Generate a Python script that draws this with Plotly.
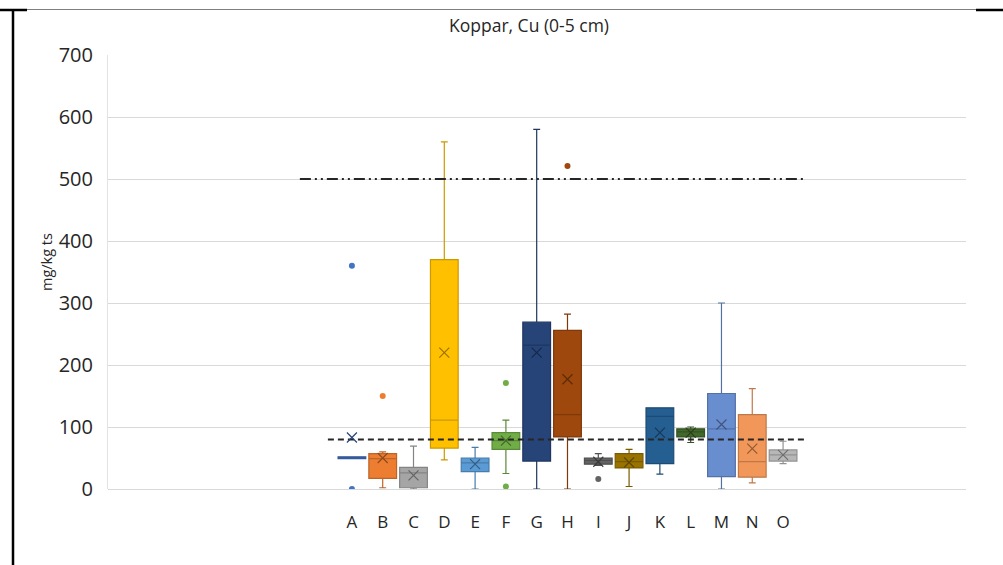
import plotly.graph_objects as go

# Sample groups and their box statistics (mg/kg ts)
groups = ["A", "B", "C", "D", "E", "F", "G", "H", "I", "J", "K", "L", "M", "N", "O"]
q1 = [49, 17, 2, 66, 28, 64, 45, 84, 40, 34, 41, 84, 20, 19, 45]
median = [50, 49, 26, 111, 42, 78, 232, 120, 46, 44, 117, 92, 97, 44, 55]
q3 = [52, 57, 35, 370, 50, 91, 269, 256, 50, 57, 131, 97, 154, 120, 63]
lower_whisker = [49, 2, 0, 47, 0, 25, 0, 0, 38, 4, 24, 75, 0, 10, 41]
upper_whisker = [52, 60, 69, 560, 67, 111, 580, 282, 57, 64, 131, 100, 300, 162, 77]
means = [83, 50, 22, 220, 40, 78, 220, 177, 44, 43, 91, 91, 104, 65, 55]
outliers = {
    "A": [360, 0],
    "B": [150],
    "F": [171, 4],
    "H": [521],
    "I": [16],
}

# Guideline values
lower_limit = 80
upper_limit = 500

colors = ["#4472C4", "#ED7D31", "#A5A5A5", "#FFC000", "#5B9BD5", "#70AD47",
          "#264478", "#9E480E", "#636363", "#997300", "#255E91", "#43682B",
          "#698ED0", "#F1975A", "#B7B7B7"]


def darker(hex_color, f=0.8):
    r, g, b = (int(hex_color[i:i + 2], 16) for i in (1, 3, 5))
    return "#%02X%02X%02X" % (int(r * f), int(g * f), int(b * f))


W, H = 1003, 565
L, R, T, B = 108, 966, 55, 489


def px_x(p):
    return (p - L) / (R - L)


def px_y(p):
    return (B - p) / (B - T)


fig = go.Figure()

positions = list(range(len(groups)))

# Guideline traces
fig.add_trace(go.Scatter(
    x=[-1.69, 14.71], y=[upper_limit, upper_limit], mode="lines",
    line=dict(color="#262626", width=2, dash="11px,4px,2px,4px,2px,4px"),
    hoverinfo="skip", showlegend=False))
fig.add_trace(go.Scatter(
    x=[-0.78, 14.71], y=[lower_limit, lower_limit], mode="lines",
    line=dict(color="#262626", width=2, dash="6px,4px"),
    hoverinfo="skip", showlegend=False))

for i, g in enumerate(groups):
    c = colors[i]
    fig.add_trace(go.Box(
        x=[positions[i]], q1=[q1[i]], median=[median[i]], q3=[q3[i]],
        lowerfence=[lower_whisker[i]], upperfence=[upper_whisker[i]],
        name=g, width=0.9, whiskerwidth=0.25, boxpoints=False,
        fillcolor=c, line=dict(color=darker(c, 0.8), width=1.2),
        showlegend=False))
    fig.add_trace(go.Scatter(
        x=[positions[i]], y=[means[i]], mode="markers",
        marker=dict(symbol="x-thin", size=10,
                    line=dict(color=darker(c, 0.6), width=1.2)),
        showlegend=False, hoverinfo="y"))
    if g in outliers:
        vals = outliers[g]
        fig.add_trace(go.Scatter(
            x=[positions[i]] * len(vals), y=vals, mode="markers",
            marker=dict(symbol="circle", size=6, color=c),
            showlegend=False, hoverinfo="y"))

fig.update_layout(
    width=W, height=H,
    margin=dict(l=L, r=W - R, t=T, b=H - B),
    paper_bgcolor="white", plot_bgcolor="white",
    font=dict(family="Open Sans", color="#262626"),
    boxmode="overlay",
    xaxis=dict(
        range=[-7.92, 19.94], tickmode="array", tickvals=positions, ticktext=groups,
        showgrid=False, zeroline=False, showline=False, ticks="",
        tickfont=dict(size=17, color="#262626"), ticklabelstandoff=21),
    yaxis=dict(
        range=[0, 700], dtick=100, showgrid=True, gridcolor="#D9D9D9", gridwidth=1.3,
        zeroline=True, zerolinecolor="#D9D9D9", zerolinewidth=1.3,
        showline=True, linecolor="#E3E3E3", linewidth=1, ticks="",
        tickfont=dict(size=20, color="#262626"), ticklabelstandoff=10),
    annotations=[
        dict(text="Koppar, Cu (0-5 cm)", xref="paper", yref="paper",
             x=px_x(528.5), y=px_y(25), xanchor="center", yanchor="middle",
             showarrow=False, font=dict(size=17.5, color="#262626")),
        dict(text="mg/kg ts", xref="paper", yref="paper", textangle=-90,
             x=px_x(46), y=px_y(262), xanchor="center", yanchor="middle",
             showarrow=False, font=dict(size=14.5, color="#262626")),
    ],
    shapes=[
        dict(type="line", xref="paper", yref="paper",
             x0=px_x(13), x1=px_x(13), y0=px_y(9), y1=px_y(565),
             line=dict(color="black", width=2.5)),
        dict(type="line", xref="paper", yref="paper",
             x0=px_x(0), x1=px_x(27), y0=px_y(10), y1=px_y(10),
             line=dict(color="black", width=2.5)),
        dict(type="line", xref="paper", yref="paper",
             x0=px_x(27), x1=px_x(976), y0=px_y(9.5), y1=px_y(9.5),
             line=dict(color="#7F7F7F", width=1.2)),
        dict(type="line", xref="paper", yref="paper",
             x0=px_x(976), x1=px_x(1003), y0=px_y(10), y1=px_y(10),
             line=dict(color="black", width=2.5)),
    ],
)

fig.write_html("out.html")
